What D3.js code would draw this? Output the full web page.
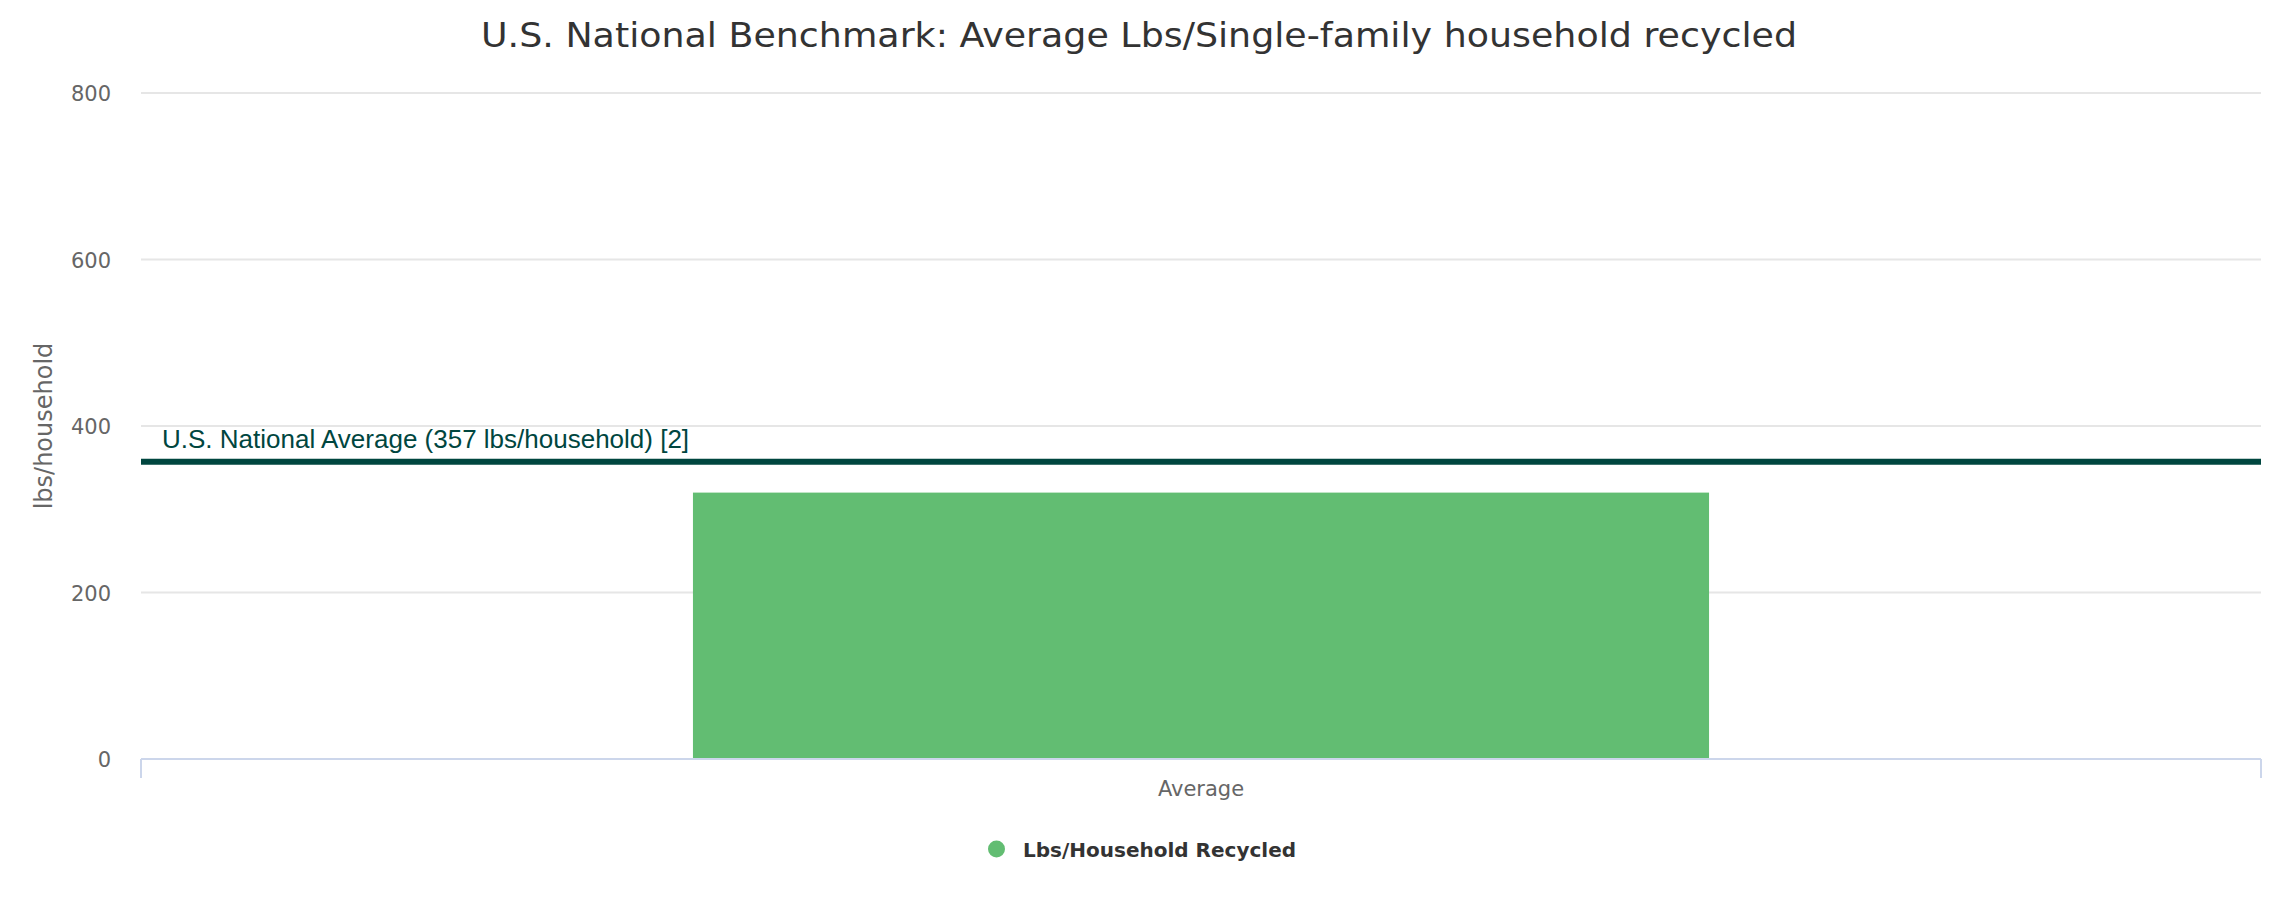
<!DOCTYPE html>
<html>
<head>
<meta charset="utf-8">
<script src="https://cdn.jsdelivr.net/npm/d3@7"></script>
<style>
  html, body { margin: 0; padding: 0; background: #ffffff; }
  svg { display: block; }
</style>
</head>
<body>
<svg id="chart" width="2280" height="900"></svg>
<script>
const titleText = "U.S. National Benchmark: Average Lbs/Single-family household recycled";
const categories = ["Average"];
const seriesName = "Lbs/Household Recycled";
const seriesValues = [320];
const yTicks = [0, 200, 400, 600, 800];
const yAxisTitle = "lbs/household";
const benchmarkValue = [357];
const benchmarkLabel = ["U.S. National Average (357 lbs/household) [2]"];

const W = 2280, H = 900;
const plot = { left: 141, right: 2261, top: 93, bottom: 759 };
const barColor = "#62bd72";
const lineColor = "#00463f";

const svg = d3.select("#chart");
svg.append("rect").attr("width", W).attr("height", H).attr("fill", "#ffffff");

const x = d3.scaleBand().domain(categories).range([plot.left, plot.right]).padding(0.352);
const y = d3.scaleLinear().domain([0, 800]).range([plot.bottom, plot.top]);

// Title
svg.append("text")
  .attr("x", 481).attr("y", 47)
  .attr("text-anchor", "start")
  .attr("font-family", "DejaVu Sans, sans-serif")
  .attr("font-size", 34)
  .attr("textLength", 1316)
  .attr("lengthAdjust", "spacingAndGlyphs")
  .attr("fill", "#333333")
  .text(titleText);

// Gridlines
svg.append("g").selectAll("line")
  .data(yTicks.filter(d => d !== 0))
  .join("line")
  .attr("x1", plot.left).attr("x2", plot.right)
  .attr("y1", d => y(d)).attr("y2", d => y(d))
  .attr("stroke", "#e6e6e6").attr("stroke-width", 2);

// Y axis labels via d3 axis
const yAxis = d3.axisLeft(y).tickValues(yTicks).tickSize(0).tickPadding(0);
const yg = svg.append("g").attr("transform", `translate(${plot.left - 30},0)`).call(yAxis);
yg.select(".domain").remove();
yg.selectAll("text")
  .attr("font-family", "DejaVu Sans, sans-serif")
  .attr("font-size", 21)
  .attr("fill", "#666666")
  .attr("dy", "0.36em");

// Y axis title
svg.append("text")
  .attr("transform", `translate(52,${(plot.top + plot.bottom) / 2}) rotate(-90)`)
  .attr("text-anchor", "middle")
  .attr("font-family", "DejaVu Sans, sans-serif")
  .attr("font-size", 24)
  .attr("fill", "#666666")
  .text(yAxisTitle);

// Bars
svg.append("g").selectAll("rect")
  .data(categories.map((c, i) => ({ c, v: seriesValues[i] })))
  .join("rect")
  .attr("x", d => x(d.c))
  .attr("width", x.bandwidth())
  .attr("y", d => y(d.v))
  .attr("height", d => y(0) - y(d.v))
  .attr("fill", barColor);

// X axis
const xAxis = d3.axisBottom(x).tickSize(0).tickPadding(0);
const xg = svg.append("g").attr("transform", `translate(0,${plot.bottom})`).call(xAxis);
xg.select(".domain").remove();
xg.selectAll("text")
  .attr("font-family", "DejaVu Sans, sans-serif")
  .attr("font-size", 21)
  .attr("fill", "#666666")
  .attr("y", 37).attr("dy", 0);
svg.append("line")
  .attr("x1", plot.left).attr("x2", plot.right)
  .attr("y1", plot.bottom).attr("y2", plot.bottom)
  .attr("stroke", "#ccd6eb").attr("stroke-width", 2);
// edge ticks
svg.append("g").selectAll("line")
  .data([plot.left, plot.right])
  .join("line")
  .attr("x1", d => d).attr("x2", d => d)
  .attr("y1", plot.bottom).attr("y2", plot.bottom + 19)
  .attr("stroke", "#ccd6eb").attr("stroke-width", 2);

// Benchmark plot line
svg.append("g").selectAll("line")
  .data(benchmarkValue)
  .join("line")
  .attr("x1", plot.left).attr("x2", plot.right)
  .attr("y1", d => y(d)).attr("y2", d => y(d))
  .attr("stroke", lineColor).attr("stroke-width", 6);
svg.append("g").selectAll("text")
  .data(benchmarkValue)
  .join("text")
  .attr("x", plot.left + 21)
  .attr("y", d => y(d) - 14)
  .attr("font-family", "Liberation Sans, Arial, sans-serif")
  .attr("font-size", 26)
  .attr("fill", lineColor)
  .text((d, i) => benchmarkLabel[i]);

// Legend
const legend = svg.append("g");
legend.append("circle")
  .attr("cx", 996.5).attr("cy", 849).attr("r", 8.5)
  .attr("fill", barColor);
legend.append("text")
  .attr("x", 1023).attr("y", 856.5)
  .attr("font-family", "DejaVu Sans, sans-serif")
  .attr("font-size", 20)
  .attr("font-weight", "bold")
  .attr("fill", "#333333")
  .text(seriesName);
</script>
</body>
</html>
